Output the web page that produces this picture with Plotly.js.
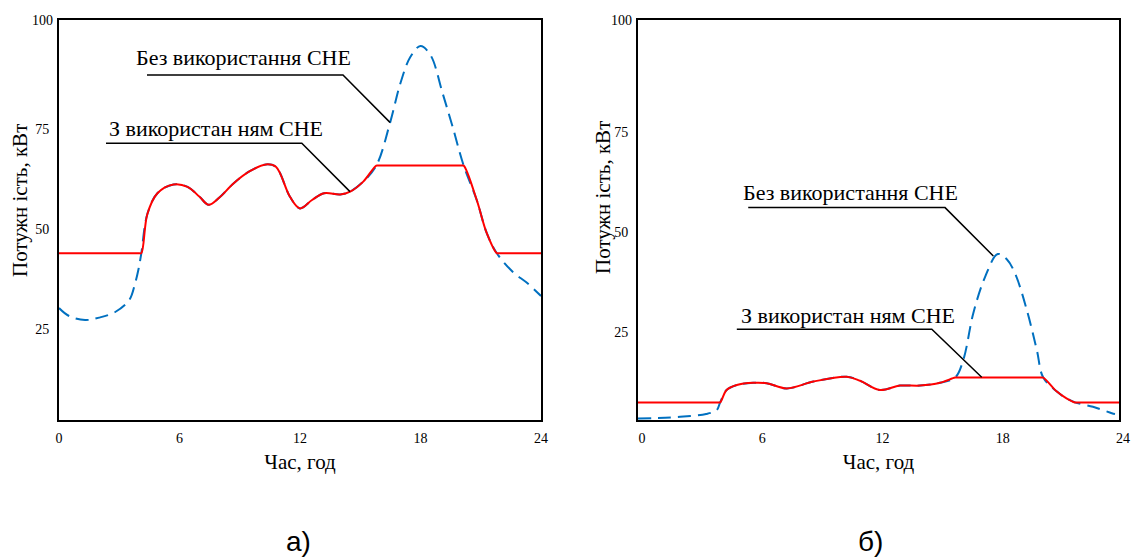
<!DOCTYPE html>
<html>
<head>
<meta charset="utf-8">
<script src="https://cdn.plot.ly/plotly-3.0.1.min.js"></script>
<style>html,body{margin:0;padding:0;background:#fff;}#chart{width:1134px;height:560px;}</style>
</head>
<body>
<div id="chart"></div>
<script>
// ---------- data ----------
const hourTicks = [0, 6, 12, 18, 24];
const powerTicks = [25, 50, 75];
const powerTopTick = [100];

const seriesNames = ['Без використання СНЕ', 'З використан ням СНЕ'];

// (а) — left chart
const hoursA_without = [0, 0.5, 1.3, 2.0, 2.8, 3.5, 3.78, 3.95, 4.1, 4.4, 4.9, 5.7, 6.4, 7.0, 7.45, 8.0, 8.7, 9.5, 10.3, 10.8, 11.5, 12.0, 12.6, 13.2, 14.0, 14.5, 15.15, 15.8, 16.5, 17.0, 17.5, 18.0, 18.5, 19.1, 19.6, 20.15, 20.8, 21.3, 21.8, 22.6, 23.3, 24];
const powerA_without = [28, 26, 25, 25.6, 27, 30, 34, 37.5, 41.7, 51.5, 56.7, 58.9, 58.3, 55.8, 53.8, 55.7, 59.2, 62.2, 63.9, 63.3, 55.8, 52.9, 55, 56.7, 56.4, 57.1, 59.6, 63.6, 74.6, 84.2, 90.8, 93.5, 91.2, 81.7, 73.3, 63.6, 55, 46.7, 41.7, 37.0, 34.3, 31];
const hoursA_with = [0, 4.0, 4.1, 4.4, 4.9, 5.7, 6.4, 7.0, 7.45, 8.0, 8.7, 9.5, 10.3, 10.8, 11.5, 12.0, 12.6, 13.2, 14.0, 14.5, 15.15, 15.8, 15.9, 20.05, 20.15, 20.8, 21.3, 21.8, 21.9, 24];
const powerA_with = [41.7, 41.7, 41.7, 51.5, 56.7, 58.9, 58.3, 55.8, 53.8, 55.7, 59.2, 62.2, 63.9, 63.3, 55.8, 52.9, 55, 56.7, 56.4, 57.1, 59.6, 63.6, 63.6, 63.6, 63.6, 55, 46.7, 41.7, 41.7, 41.7];

// (б) — right chart
const hoursB_without = [0, 1.0, 2.1, 3.4, 3.93, 4.1, 4.42, 4.93, 5.75, 6.42, 7.42, 8.75, 10.41, 11.08, 12.07, 13.07, 14.07, 15.07, 15.82, 16.23, 16.73, 17.32, 17.95, 18.4, 18.81, 19.4, 19.9, 20.22, 20.9, 21.38, 21.8, 22.7, 23.64, 23.8];
const powerB_without = [0.4, 0.5, 0.8, 1.5, 2.5, 4.4, 7.5, 8.75, 9.3, 9.2, 7.9, 9.6, 10.8, 9.8, 7.5, 8.6, 8.6, 9.3, 10.6, 15, 26.7, 35.8, 41.5, 40.2, 36.7, 27.5, 17.5, 10.6, 7.1, 5.4, 4.4, 3.3, 1.7, 1.5];
const hoursB_with = [0, 4.0, 4.1, 4.42, 4.93, 5.75, 6.42, 7.42, 8.75, 10.41, 11.08, 12.07, 13.07, 14.07, 15.07, 15.82, 15.92, 20.12, 20.22, 20.9, 21.38, 21.8, 21.9, 24];
const powerB_with = [4.4, 4.4, 4.4, 7.5, 8.75, 9.3, 9.2, 7.9, 9.6, 10.8, 9.8, 7.5, 8.6, 8.6, 9.3, 10.6, 10.6, 10.6, 10.6, 7.1, 5.4, 4.4, 4.4, 4.4];

const xTitle = 'Час, год';
const yTitle = 'Потужн ість, кВт';
const panelLabels = ['а)', 'б)'];

// ---------- styling ----------
const SERIF = "'Liberation Serif', serif";
const SANS = "'Liberation Sans', sans-serif";
const BLUE = '#0070c0';
const RED = '#ff0000';
const W = 1134, H = 560;
const px = (a, b) => [a / W, b / W];
const py = (top, bottom) => [1 - bottom / H, 1 - top / H];

const dashLine = {color: BLUE, width: 2, dash: '13px,7px', shape: 'spline', smoothing: 1};
const solidLine = {color: RED, width: 2, shape: 'spline', smoothing: 1};

const traces = [
  {x: hoursA_without, y: powerA_without, name: seriesNames[0], type: 'scatter', mode: 'lines', line: dashLine, xaxis: 'x', yaxis: 'y'},
  {x: hoursA_with, y: powerA_with, name: seriesNames[1], type: 'scatter', mode: 'lines', line: solidLine, xaxis: 'x', yaxis: 'y3'},
  {x: hoursB_without, y: powerB_without, name: seriesNames[0], type: 'scatter', mode: 'lines', line: dashLine, xaxis: 'x2', yaxis: 'y2'},
  {x: hoursB_with, y: powerB_with, name: seriesNames[1], type: 'scatter', mode: 'lines', line: solidLine, xaxis: 'x2', yaxis: 'y4'}
];

function xAxis(domain, anchor, shift) {
  return {
    domain: domain, anchor: anchor, range: [0, 24], tickvals: hourTicks, ticktext: hourTicks.map(String),
    showline: true, linecolor: '#000', linewidth: 2, mirror: true, showgrid: false, zeroline: false,
    ticks: '', ticklabelshift: shift, ticklabelstandoff: 4,
    tickfont: {family: SERIF, size: 14, color: '#000'},
    title: {text: xTitle, font: {family: SERIF, size: 21, color: '#000'}, standoff: 10},
    fixedrange: true, automargin: false
  };
}
function yAxis(domain, anchor, shift) {
  return {
    domain: domain, anchor: anchor, range: [0, 100], tickvals: powerTicks, ticktext: powerTicks.map(String),
    showline: true, linecolor: '#000', linewidth: 2, mirror: true, showgrid: false, zeroline: false,
    ticks: '', ticklabelshift: shift, ticklabelstandoff: 5,
    tickfont: {family: SERIF, size: 14, color: '#000'},
    fixedrange: true, automargin: false
  };
}
function yTopAxis(over, anchor) {
  return {
    overlaying: over, anchor: anchor, side: 'left', range: [0, 100], tickvals: powerTopTick, ticktext: powerTopTick.map(String),
    showline: false, showgrid: false, zeroline: false, ticks: '', ticklabelstandoff: 5,
    tickfont: {family: SERIF, size: 14, color: '#000'},
    fixedrange: true, automargin: false
  };
}

const leader = {color: '#000', width: 1.5};
const layout = {
  width: W, height: H,
  margin: {l: 0, r: 0, t: 0, b: 0, pad: 0},
  paper_bgcolor: '#fff', plot_bgcolor: '#fff',
  font: {family: SERIF, size: 22, color: '#000'},
  showlegend: false,
  xaxis: xAxis(px(59, 541), 'y', 0),
  yaxis: yAxis(py(20, 420), 'x', 9),
  yaxis3: yTopAxis('y', 'x'),
  xaxis2: xAxis(px(638, 1119), 'y2', 4),
  yaxis2: yAxis(py(20, 420), 'x2', 12),
  yaxis4: yTopAxis('y2', 'x2'),
  shapes: [
    {type: 'path', xref: 'x', yref: 'y', path: 'M 4.38 86.25 L 14.14 86.25 L 16.48 74.4', line: leader},
    {type: 'path', xref: 'x', yref: 'y', path: 'M 2.34 69.2 L 12.09 69.2 L 14.49 57.1', line: leader},
    {type: 'path', xref: 'x2', yref: 'y2', path: 'M 5.5 53.1 L 15.32 53.1 L 17.73 41', line: leader},
    {type: 'path', xref: 'x2', yref: 'y2', path: 'M 4.93 22.7 L 14.66 22.7 L 17.15 10.7', line: leader}
  ],
  annotations: [
    {xref: 'x', yref: 'y', x: 9.2, y: 90.6, text: seriesNames[0], showarrow: false, xanchor: 'center', yanchor: 'middle'},
    {xref: 'x', yref: 'y', x: 7.84, y: 72.8, text: seriesNames[1], showarrow: false, xanchor: 'center', yanchor: 'middle'},
    {xref: 'x2', yref: 'y2', x: 10.58, y: 56.8, text: seriesNames[0], showarrow: false, xanchor: 'center', yanchor: 'middle'},
    {xref: 'x2', yref: 'y2', x: 10.5, y: 26.2, text: seriesNames[1], showarrow: false, xanchor: 'center', yanchor: 'middle'},
    // vertical axis titles
    {xref: 'paper', yref: 'paper', x: 20 / W, y: 1 - 201 / H, text: yTitle, textangle: -90, showarrow: false, font: {size: 21}, xanchor: 'center', yanchor: 'middle'},
    {xref: 'paper', yref: 'paper', x: 603 / W, y: 1 - 198 / H, text: yTitle, textangle: -90, showarrow: false, font: {size: 21}, xanchor: 'center', yanchor: 'middle'},
    // panel labels
    {xref: 'paper', yref: 'paper', x: 298 / W, y: 1 - 541 / H, text: panelLabels[0], showarrow: false, font: {family: SANS, size: 28}, xanchor: 'center', yanchor: 'middle'},
    {xref: 'paper', yref: 'paper', x: 870 / W, y: 1 - 541 / H, text: panelLabels[1], showarrow: false, font: {family: SANS, size: 28}, xanchor: 'center', yanchor: 'middle'}
  ]
};

Plotly.newPlot('chart', traces, layout, {staticPlot: true, displayModeBar: false});
</script>
</body>
</html>
